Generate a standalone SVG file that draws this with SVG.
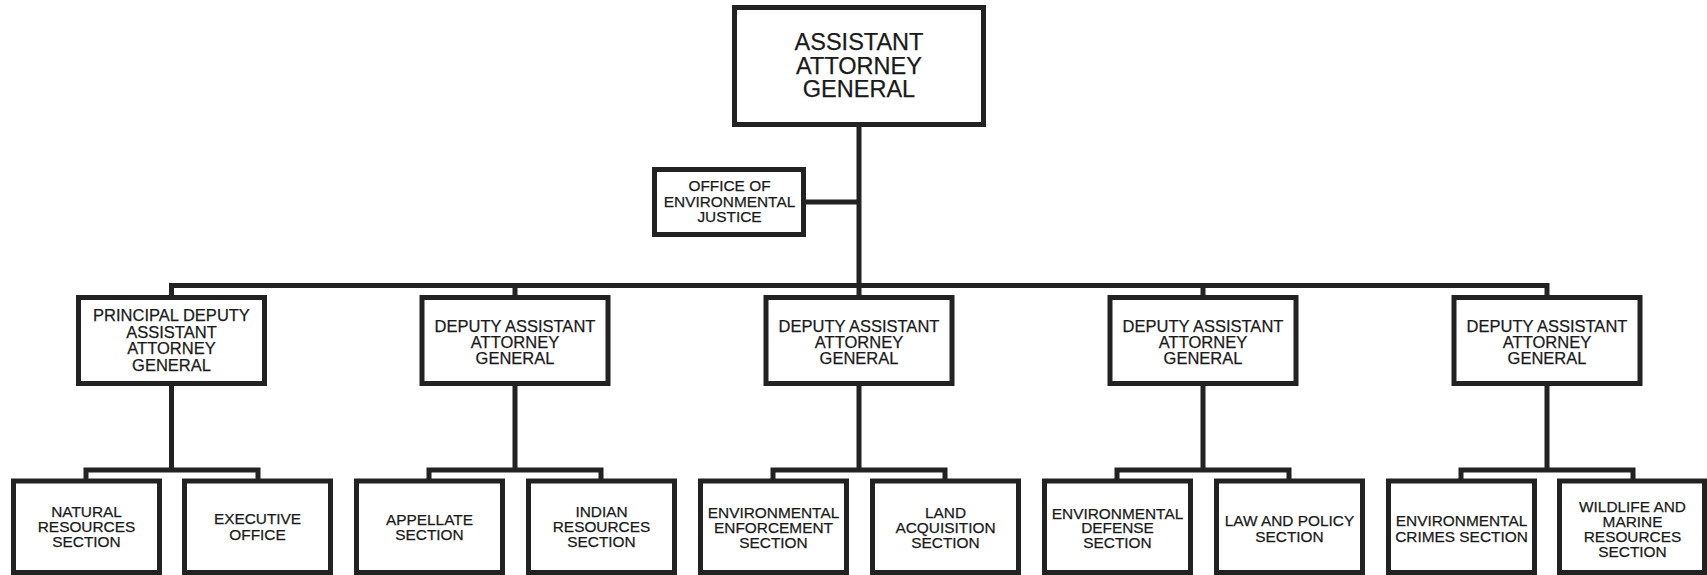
<svg xmlns="http://www.w3.org/2000/svg" width="1707" height="575" viewBox="0 0 1707 575">
<style>
.box{fill:#fff;stroke:#222;stroke-width:5}
.ln{fill:none;stroke:#222;stroke-width:5;stroke-linejoin:miter}
text{font-family:"Liberation Sans",Arial,Helvetica,sans-serif;fill:#1a1a1a;stroke:#1a1a1a;stroke-width:0.25;text-anchor:middle}
.t0{font-size:23.5px}
.t1{font-size:16.5px}
.t2{font-size:15.4px}
</style>
<rect width="1707" height="575" fill="#fff"/>
<g id="connectors">
<path class="ln" d="M859,125 V285.5"/>
<path class="ln" d="M805,202 H859"/>
<path class="ln" d="M171.5,296 V285.5 H1547 V296"/>
<path class="ln" d="M515,285.5 V296 M859,285.5 V296 M1203,285.5 V296"/>
<path class="ln" d="M171.5,385 V470 M86,481 V470 H258 V481"/>
<path class="ln" d="M515,385 V470 M429,481 V470 H601 V481"/>
<path class="ln" d="M859,385 V470 M773,481 V470 H945 V481"/>
<path class="ln" d="M1203,385 V470 M1117,481 V470 H1289 V481"/>
<path class="ln" d="M1547,385 V470 M1461,481 V470 H1633 V481"/>
</g>
<g id="aag">
<rect class="box" x="734.5" y="7.5" width="249" height="117"/>
<text class="t0" x="859" y="50">ASSISTANT</text>
<text class="t0" x="859" y="73.5">ATTORNEY</text>
<text class="t0" x="859" y="97">GENERAL</text>
</g>
<g id="oej">
<rect class="box" x="654.5" y="169.5" width="149" height="65"/>
<text class="t2" x="729.5" y="191">OFFICE OF</text>
<text class="t2" x="729.5" y="207">ENVIRONMENTAL</text>
<text class="t2" x="729.5" y="222">JUSTICE</text>
</g>
<g id="pdaag">
<rect class="box" x="78.5" y="297.5" width="186" height="86"/>
<text class="t1" x="171.5" y="321">PRINCIPAL DEPUTY</text>
<text class="t1" x="171.5" y="337.5">ASSISTANT</text>
<text class="t1" x="171.5" y="354">ATTORNEY</text>
<text class="t1" x="171.5" y="370.5">GENERAL</text>
</g>
<g id="daag2">
<rect class="box" x="422" y="297.5" width="186" height="86"/>
<text class="t1" x="515" y="332">DEPUTY ASSISTANT</text>
<text class="t1" x="515" y="348">ATTORNEY</text>
<text class="t1" x="515" y="364">GENERAL</text>
</g>
<g id="daag3">
<rect class="box" x="766" y="297.5" width="186" height="86"/>
<text class="t1" x="859" y="332">DEPUTY ASSISTANT</text>
<text class="t1" x="859" y="348">ATTORNEY</text>
<text class="t1" x="859" y="364">GENERAL</text>
</g>
<g id="daag4">
<rect class="box" x="1110" y="297.5" width="186" height="86"/>
<text class="t1" x="1203" y="332">DEPUTY ASSISTANT</text>
<text class="t1" x="1203" y="348">ATTORNEY</text>
<text class="t1" x="1203" y="364">GENERAL</text>
</g>
<g id="daag5">
<rect class="box" x="1454" y="297.5" width="186" height="86"/>
<text class="t1" x="1547" y="332">DEPUTY ASSISTANT</text>
<text class="t1" x="1547" y="348">ATTORNEY</text>
<text class="t1" x="1547" y="364">GENERAL</text>
</g>
<g id="nrs">
<rect class="box" x="13.5" y="481" width="146" height="91.5"/>
<text class="t2" x="86.5" y="517">NATURAL</text>
<text class="t2" x="86.5" y="532">RESOURCES</text>
<text class="t2" x="86.5" y="547">SECTION</text>
</g>
<g id="exec">
<rect class="box" x="184.5" y="481" width="146" height="91.5"/>
<text class="t2" x="257.5" y="524">EXECUTIVE</text>
<text class="t2" x="257.5" y="539.5">OFFICE</text>
</g>
<g id="app">
<rect class="box" x="356.5" y="481" width="146" height="91.5"/>
<text class="t2" x="429.5" y="525">APPELLATE</text>
<text class="t2" x="429.5" y="540">SECTION</text>
</g>
<g id="irs">
<rect class="box" x="528.5" y="481" width="146" height="91.5"/>
<text class="t2" x="601.5" y="517">INDIAN</text>
<text class="t2" x="601.5" y="532">RESOURCES</text>
<text class="t2" x="601.5" y="547">SECTION</text>
</g>
<g id="enrd">
<rect class="box" x="700.5" y="481" width="146" height="91.5"/>
<text class="t2" x="773.5" y="518">ENVIRONMENTAL</text>
<text class="t2" x="773.5" y="533">ENFORCEMENT</text>
<text class="t2" x="773.5" y="548">SECTION</text>
</g>
<g id="las">
<rect class="box" x="872.5" y="481" width="146" height="91.5"/>
<text class="t2" x="945.5" y="518">LAND</text>
<text class="t2" x="945.5" y="533">ACQUISITION</text>
<text class="t2" x="945.5" y="548">SECTION</text>
</g>
<g id="eds">
<rect class="box" x="1044.5" y="481" width="146" height="91.5"/>
<text class="t2" x="1117.5" y="518.5">ENVIRONMENTAL</text>
<text class="t2" x="1117.5" y="533">DEFENSE</text>
<text class="t2" x="1117.5" y="548">SECTION</text>
</g>
<g id="lps">
<rect class="box" x="1216.5" y="481" width="146" height="91.5"/>
<text class="t2" x="1289.5" y="526">LAW AND POLICY</text>
<text class="t2" x="1289.5" y="541.5">SECTION</text>
</g>
<g id="ecs">
<rect class="box" x="1388.5" y="481" width="146" height="91.5"/>
<text class="t2" x="1461.5" y="526">ENVIRONMENTAL</text>
<text class="t2" x="1461.5" y="541.5">CRIMES SECTION</text>
</g>
<g id="wmrs">
<rect class="box" x="1559.5" y="481" width="145" height="91.5"/>
<text class="t2" x="1632.5" y="512">WILDLIFE AND</text>
<text class="t2" x="1632.5" y="527">MARINE</text>
<text class="t2" x="1632.5" y="542">RESOURCES</text>
<text class="t2" x="1632.5" y="557">SECTION</text>
</g>
</svg>
